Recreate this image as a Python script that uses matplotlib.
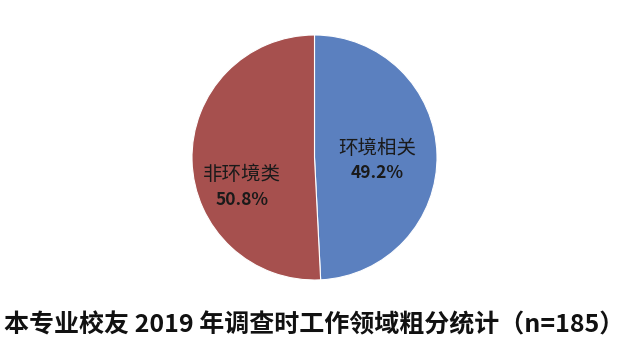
import matplotlib
matplotlib.use('Agg')
import matplotlib.pyplot as plt

plt.rcParams['font.family'] = ['Noto Sans CJK SC', 'DejaVu Sans']

categories = ['环境相关', '非环境类']
shares = [49.2, 50.8]
slice_colors = ['#5B80BF', '#A6504E']
title = '本专业校友 2019 年调查时工作领域粗分统计（n=185）'

fig = plt.figure(figsize=(6.28, 3.52), dpi=100)
fig.patch.set_facecolor('white')

# pie axes: centre (314.5, 157.5) px, radius 122.5 px
ax = fig.add_axes([192 / 628, 72 / 352, 245 / 628, 245 / 352])
ax.pie(shares, colors=slice_colors, startangle=90, counterclock=False,
       radius=1.0, wedgeprops=dict(edgecolor='white', linewidth=0.8))
ax.set_xlim(-1, 1)
ax.set_ylim(-1, 1)
ax.set_aspect('equal')
ax.axis('off')

# label positions (data units inside the pie)
label_pos = [(0.51, 0.075), (-0.59, -0.14)]
for (x, y), name, val in zip(label_pos, categories, shares):
    ax.text(x, y, name, ha='center', va='center', fontsize=14, color='#1a1a1a')
    ax.text(x, y - 0.205, f'{val:.1f}%', ha='center', va='center', fontsize=12.5,
            fontweight='bold', color='#1a1a1a')

fig.text(0.5, 1 - 325 / 352, title, ha='center', va='center', fontsize=18,
         fontweight='bold', color='#111111')

fig.savefig('out.png', dpi=100, facecolor='white')
